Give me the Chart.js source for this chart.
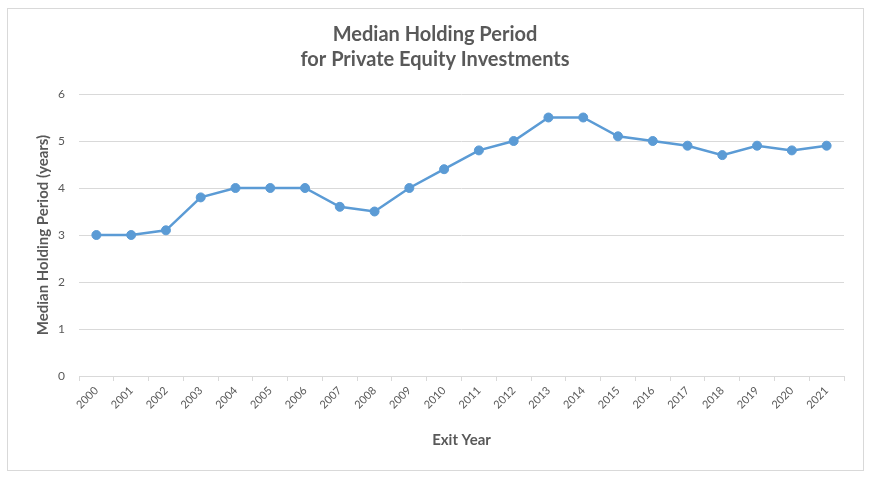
<!DOCTYPE html>
<html>
<head>
<meta charset="utf-8">
<script src="https://cdn.jsdelivr.net/npm/chart.js@4"></script>
<style>
    html, body { margin: 0; padding: 0; background: #fff; }
    #wrap { position: relative; width: 875px; height: 484px; }
    #frame { position: absolute; left: 7px; top: 8px; width: 855px; height: 461px; border: 1px solid #d9d9d9; }
    #chart { position: absolute; left: 0; top: 0; }
</style>
</head>
<body>
<div id="wrap">
    <div id="frame"></div>
    <canvas id="chart" width="875" height="484"></canvas>
</div>
<script>
"use strict";

// daten
const exitYears = ['2000', '2001', '2002', '2003', '2004', '2005', '2006', '2007', '2008', '2009', '2010',
    '2011', '2012', '2013', '2014', '2015', '2016', '2017', '2018', '2019', '2020', '2021'];
const holdingYears = [3.0, 3.0, 3.1, 3.8, 4.0, 4.0, 4.0, 3.6, 3.5, 4.0, 4.4,
    4.8, 5.0, 5.5, 5.5, 5.1, 5.0, 4.9, 4.7, 4.9, 4.8, 4.9];
const yTicks = [0, 1, 2, 3, 4, 5, 6];

const titleLines = ['Median Holding Period', 'for Private Equity Investments'];
const xTitle = 'Exit Year';
const yTitle = 'Median Holding Period (years)';

const textGrey = '#595959';
const lineGrey = '#d9d9d9';
const blue = '#5b9bd5';

Chart.defaults.font.family = 'Lato, "Open Sans", sans-serif';
Chart.defaults.color = textGrey;

const ctx = document.getElementById('chart').getContext('2d');
new Chart(ctx, {
    type: 'line',
    data: {
        labels: exitYears,
        datasets: [{
            label: yTitle,
            data: holdingYears,
            borderColor: blue,
            backgroundColor: blue,
            borderWidth: 2.5,
            pointRadius: 4.5,
            pointBorderWidth: 1,
            pointBackgroundColor: blue,
            pointBorderColor: blue,
            tension: 0,
            fill: false
        }]
    },
    options: {
        responsive: false,
        animation: false,
        layout: {
            padding: {left: 0, right: 5, top: 0, bottom: 0}
        },
        plugins: {
            legend: {display: false},
            tooltip: {enabled: false},
            title: {
                display: true,
                text: titleLines,
                color: textGrey,
                font: {size: 20, weight: 'bold', lineHeight: 1.25},
                padding: {top: 22, bottom: 22}
            }
        },
        scales: {
            x: {
                offset: true,
                grid: {
                    display: true,
                    drawOnChartArea: false,
                    drawTicks: true,
                    tickLength: 5,
                    offset: true,
                    color: lineGrey
                },
                border: {display: true, color: lineGrey, width: 1},
                ticks: {
                    color: textGrey,
                    font: {size: 11},
                    minRotation: 45,
                    maxRotation: 45,
                    autoSkip: false,
                    padding: 3
                },
                title: {
                    display: true,
                    text: xTitle,
                    color: textGrey,
                    font: {size: 15, weight: 'bold'},
                    padding: {top: 0, bottom: 35}
                },
                afterFit: scale => { scale.height = 108; }
            },
            y: {
                min: 0,
                max: 6,
                afterBuildTicks: scale => { scale.ticks = yTicks.map(v => ({value: v})); },
                grid: {color: lineGrey, drawTicks: false},
                border: {display: false},
                ticks: {
                    color: textGrey,
                    font: {size: 12},
                    padding: 14
                },
                title: {
                    display: true,
                    text: yTitle,
                    color: textGrey,
                    font: {size: 15, weight: 'bold'},
                    padding: {top: 34, bottom: 0}
                },
                afterFit: scale => { scale.width = 79; }
            },
            // leere achse rechts, damit der plotbereich bei 844 endet
            yRight: {
                position: 'right',
                display: true,
                grid: {display: false},
                border: {display: false},
                ticks: {display: false},
                afterFit: scale => { scale.width = 26; }
            }
        }
    }
});
</script>
</body>
</html>
